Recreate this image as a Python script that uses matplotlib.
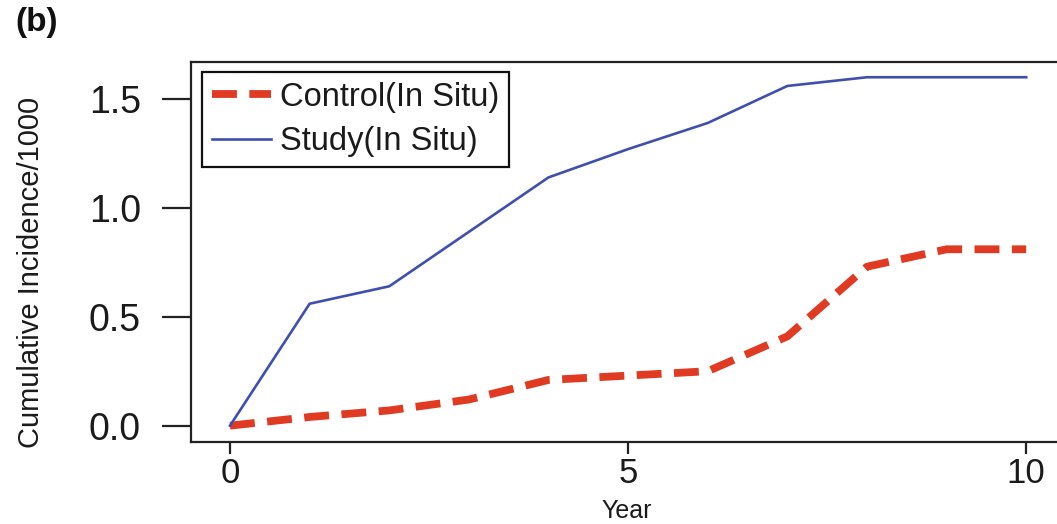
import matplotlib
matplotlib.use("Agg")
import matplotlib.pyplot as plt

plt.rcParams['font.family'] = ['Liberation Sans', 'DejaVu Sans']

years = [0, 1, 2, 3, 4, 5, 6, 7, 8, 9, 10]
control_in_situ = [0.0, 0.04, 0.07, 0.12, 0.21, 0.23, 0.25, 0.41, 0.73, 0.81, 0.81]
study_in_situ = [0.0, 0.56, 0.64, 0.89, 1.14, 1.27, 1.39, 1.56, 1.60, 1.60, 1.60]
x_ticks = [0, 5, 10]
y_ticks = [0.0, 0.5, 1.0, 1.5]
y_tick_labels = ["0.0", "0.5", "1.0", "1.5"]

W, H = 1057, 524
fig = plt.figure(figsize=(W / 100, H / 100), dpi=100)
ax = fig.add_axes([191 / W, 1 - 442 / H, (1066 - 191) / W, (442 - 62) / H])

ax.plot(years, control_in_situ, color='#e03a22', lw=5.6, ls=(0, (3.2, 1.6)),
        dash_capstyle='butt', label='Control(In Situ)', zorder=3)
ax.plot(years, study_in_situ, color='#3f4fae', lw=1.9,
        label='Study(In Situ)', zorder=4)

ax.set_xlim(-0.49, 10.5)
ax.set_ylim(-0.075, 1.67)
ax.set_xticks(x_ticks)
ax.set_yticks(y_ticks)
ax.set_yticklabels(y_tick_labels)

for s in ax.spines.values():
    s.set_linewidth(1.6)
    s.set_color('#222222')

ax.tick_params(axis='y', direction='out', length=21, width=1.6, pad=15,
               labelsize=27, colors='#222222', labelcolor='#1a1a1a')
ax.tick_params(axis='x', direction='out', length=8.5, width=1.6, pad=2,
               labelsize=25, colors='#222222', labelcolor='#1a1a1a')

leg = ax.legend(loc='upper left', bbox_to_anchor=(202 / W, 1 - 72 / H),
                bbox_transform=fig.transFigure, borderaxespad=0,
                fontsize=23.5, frameon=True, fancybox=False, framealpha=1,
                edgecolor='#111111', handlelength=1.8, handletextpad=0.3,
                borderpad=0.3, labelspacing=0.42)
leg.get_frame().set_linewidth(1.6)
for t in leg.get_texts():
    t.set_color('#1a1a1a')

fig.text(31 / W, 1 - 272 / H, 'Cumulative Incidence/1000', rotation=90,
         ha='center', va='center', fontsize=21, color='#1a1a1a')
fig.text(627 / W, 1 - 518.5 / H, 'Year', ha='center', va='baseline',
         fontsize=18, color='#1a1a1a')
fig.text(37 / W, 1 - 22 / H, '(b)', ha='center', va='center',
         fontsize=24, fontweight='bold', color='#111111')

fig.savefig('out.png', dpi=100)
